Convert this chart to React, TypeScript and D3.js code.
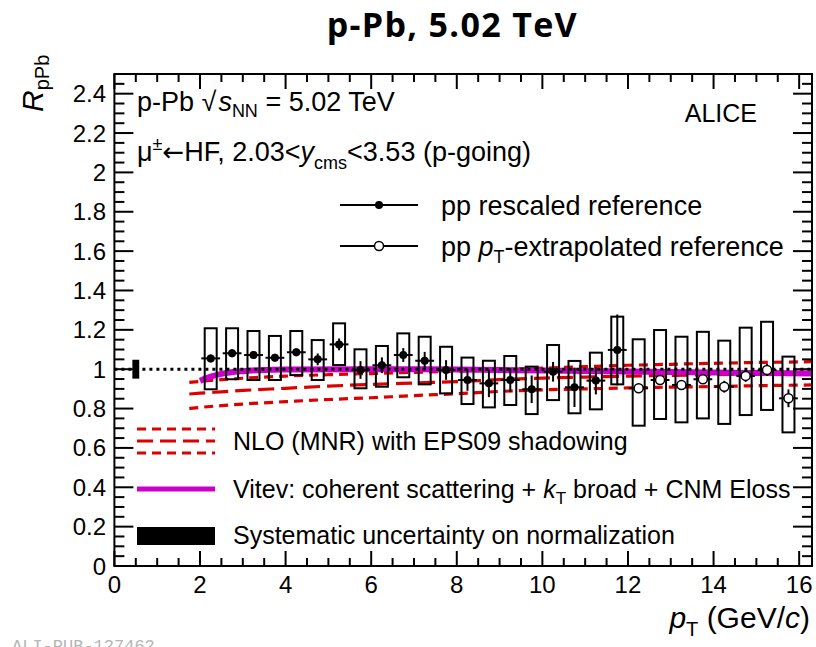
import React from "react";
import * as d3 from "d3";

// ---- data ----
const filledPt = [2.25, 2.75, 3.25, 3.75, 4.25, 4.75, 5.25, 5.75, 6.25, 6.75, 7.25, 7.75, 8.25, 8.75, 9.25, 9.75, 10.25, 10.75, 11.25, 11.75];
const filledR = [1.055, 1.081, 1.072, 1.058, 1.086, 1.05, 1.126, 0.996, 1.02, 1.072, 1.043, 0.996, 0.945, 0.928, 0.945, 0.898, 0.987, 0.908, 0.942, 1.098];
const filledStat = [0.02, 0.02, 0.02, 0.02, 0.02, 0.03, 0.03, 0.045, 0.04, 0.035, 0.045, 0.05, 0.055, 0.07, 0.06, 0.07, 0.05, 0.1, 0.07, 0.18];
const filledSystUp = [0.153, 0.127, 0.122, 0.111, 0.108, 0.098, 0.107, 0.105, 0.098, 0.11, 0.122, 0.118, 0.114, 0.115, 0.122, 0.115, 0.136, 0.134, 0.142, 0.169];
const filledSystDown = [0.157, 0.132, 0.127, 0.113, 0.116, 0.105, 0.105, 0.093, 0.109, 0.113, 0.12, 0.119, 0.122, 0.122, 0.127, 0.126, 0.144, 0.132, 0.146, 0.175];

const openPt = [12.25, 12.75, 13.25, 13.75, 14.25, 14.75, 15.25, 15.75];
const openR = [0.903, 0.945, 0.92, 0.949, 0.911, 0.966, 0.996, 0.852];
const openStat = [0.02, 0.02, 0.02, 0.02, 0.03, 0.03, 0.03, 0.045];
const openSystUp = [0.249, 0.254, 0.245, 0.241, 0.234, 0.245, 0.245, 0.212];
const openSystDown = [0.19, 0.198, 0.19, 0.199, 0.189, 0.199, 0.203, 0.173];

const nloPt = [1.75, 2, 2.5, 3, 4, 5, 6, 7, 8, 9, 10, 11, 12, 13, 14, 15, 16.3];
const nloLow = [0.8, 0.806, 0.815, 0.823, 0.835, 0.846, 0.855, 0.866, 0.875, 0.887, 0.895, 0.9, 0.905, 0.909, 0.912, 0.916, 0.92];
const nloCen = [0.874, 0.878, 0.885, 0.892, 0.903, 0.914, 0.923, 0.93, 0.937, 0.947, 0.955, 0.96, 0.965, 0.969, 0.972, 0.975, 0.978];
const nloHigh = [0.933, 0.938, 0.947, 0.954, 0.965, 0.972, 0.978, 0.984, 0.99, 0.998, 1.005, 1.013, 1.02, 1.025, 1.03, 1.034, 1.038];

const vitPt = [2.0, 2.25, 2.5, 3, 3.5, 4, 6, 8, 10, 12, 14, 16.3];
const vitR = [0.941, 0.962, 0.976, 0.99, 0.996, 0.998, 1.0, 0.998, 0.993, 0.988, 0.983, 0.978];

const normPt = 0.5;
const normUnc = 0.048;

const xMajorTicks = [0, 2, 4, 6, 8, 10, 12, 14, 16];
const yMajorTicks = [0, 0.2, 0.4, 0.6, 0.8, 1, 1.2, 1.4, 1.6, 1.8, 2, 2.2, 2.4];

const FONT = "'Liberation Sans', Arial, Helvetica, sans-serif";
const RED = "#dd0000";
const MAG = "#cc00cc";

export default function App() {
  const x = d3.scaleLinear().domain([0, 16.3]).range([114.4, 812]);
  const y = d3.scaleLinear().domain([0, 2.5]).range([566, 74]);
  const [x0, x1] = x.range();
  const [y0, y1] = y.range();

  const line = d3
    .line<[number, number]>()
    .x((d) => x(d[0]))
    .y((d) => y(d[1]))
    .curve(d3.curveMonotoneX);

  const xMinor = d3.range(0, 16.3001, 0.5);
  const yMinor = d3.range(0, 2.5001, 0.05);
  const isMajorX = (v: number) => Math.abs(v / 2 - Math.round(v / 2)) < 1e-6;
  const isMajorY = (v: number) => Math.abs(v / 0.2 - Math.round(v / 0.2)) < 1e-6;

  const boxHalf = 0.14;
  const errHalf = 0.22;
  const LEG = 25;
  const SUB = 17;
  const TOP = 27;
  const TSUB = 18;

  return (
    <svg
      width={816}
      height={647}
      viewBox="0 0 816 647"
      style={{ position: "absolute", left: 0, top: 0, background: "#fff" }}
      fontFamily={FONT}
    >
      <rect x={0} y={0} width={816} height={647} fill="#fff" />
      {/* Title */}
      <text
        x={451.7}
        y={37}
        textAnchor="middle"
        fontFamily="'Open Sans', 'Noto Sans', sans-serif"
        fontWeight="bold"
        fontSize={34}
        textLength={250}
        fill="#000"
      >
        p-Pb, 5.02 TeV
      </text>

      {/* theory curves */}
      <path d={line(nloPt.map((p, i) => [p, nloHigh[i]]) as any) || ""} fill="none" stroke={RED} strokeWidth={3.2} strokeDasharray="9,6" />
      <path d={line(nloPt.map((p, i) => [p, nloLow[i]]) as any) || ""} fill="none" stroke={RED} strokeWidth={3.2} strokeDasharray="9,6" />
      <path d={line(nloPt.map((p, i) => [p, nloCen[i]]) as any) || ""} fill="none" stroke={RED} strokeWidth={3.2} strokeDasharray="16,7" />
      <path d={line(vitPt.map((p, i) => [p, vitR[i]]) as any) || ""} fill="none" stroke={MAG} strokeWidth={6} />

      {/* dotted unity line */}
      <line x1={x(0)} x2={x1} y1={y(1)} y2={y(1)} stroke="#000" strokeWidth={3} strokeDasharray="3,4" />

      {/* normalization uncertainty */}
      <rect x={x(normPt - 0.08)} y={y(1 + normUnc)} width={x(normPt + 0.08) - x(normPt - 0.08)} height={y(1 - normUnc) - y(1 + normUnc)} fill="#000" />

      {/* filled points */}
      {filledPt.map((p, i) => (
        <g key={"f" + i}>
          <rect
            x={x(p - boxHalf)}
            y={y(filledR[i] + filledSystUp[i])}
            width={x(p + boxHalf) - x(p - boxHalf)}
            height={y(filledR[i] - filledSystDown[i]) - y(filledR[i] + filledSystUp[i])}
            fill="none"
            stroke="#000"
            strokeWidth={2}
          />
          <line x1={x(p)} x2={x(p)} y1={y(filledR[i] + filledStat[i])} y2={y(filledR[i] - filledStat[i])} stroke="#000" strokeWidth={2} />
          <line x1={x(p - errHalf)} x2={x(p + errHalf)} y1={y(filledR[i])} y2={y(filledR[i])} stroke="#000" strokeWidth={2} />
          <circle cx={x(p)} cy={y(filledR[i])} r={4} fill="#000" />
        </g>
      ))}

      {/* open points */}
      {openPt.map((p, i) => (
        <g key={"o" + i}>
          <rect
            x={x(p - boxHalf)}
            y={y(openR[i] + openSystUp[i])}
            width={x(p + boxHalf) - x(p - boxHalf)}
            height={y(openR[i] - openSystDown[i]) - y(openR[i] + openSystUp[i])}
            fill="none"
            stroke="#000"
            strokeWidth={2}
          />
          <line x1={x(p)} x2={x(p)} y1={y(openR[i] + openStat[i])} y2={y(openR[i] - openStat[i])} stroke="#000" strokeWidth={2} />
          <line x1={x(p - errHalf)} x2={x(p + errHalf)} y1={y(openR[i])} y2={y(openR[i])} stroke="#000" strokeWidth={2} />
          <circle cx={x(p)} cy={y(openR[i])} r={4.5} fill="#fff" stroke="#000" strokeWidth={1.5} />
        </g>
      ))}

      {/* frame */}
      <rect x={x0} y={y1} width={x1 - x0} height={y0 - y1} fill="none" stroke="#000" strokeWidth={2} />

      {/* x ticks (bottom & top) */}
      {xMinor.map((v, i) => {
        const L = isMajorX(v) ? 15 : 8;
        return (
          <g key={"xt" + i}>
            <line x1={x(v)} x2={x(v)} y1={y0} y2={y0 - L} stroke="#000" strokeWidth={2} />
            <line x1={x(v)} x2={x(v)} y1={y1} y2={y1 + L} stroke="#000" strokeWidth={2} />
          </g>
        );
      })}
      {/* y ticks (left & right) */}
      {yMinor.map((v, i) => {
        const L = isMajorY(v) ? 19 : 10;
        return (
          <g key={"yt" + i}>
            <line x1={x0} x2={x0 + L} y1={y(v)} y2={y(v)} stroke="#000" strokeWidth={2} />
            <line x1={x1} x2={x1 - L} y1={y(v)} y2={y(v)} stroke="#000" strokeWidth={2} />
          </g>
        );
      })}

      {/* tick labels */}
      {xMajorTicks.map((v) => (
        <text key={"xl" + v} x={x(v)} y={593} textAnchor="middle" fontSize={24} fill="#000">
          {v}
        </text>
      ))}
      {yMajorTicks.map((v) => (
        <text key={"yl" + v} x={106} y={y(v) + 8.5} textAnchor="end" fontSize={24} fill="#000">
          {String(+v.toFixed(1))}
        </text>
      ))}

      {/* axis titles */}
      <text x={810} y={628} textAnchor="end" fontSize={30} fill="#000">
        <tspan fontStyle="italic">p</tspan>
        <tspan fontSize={20} dy={8}>T</tspan>
        <tspan dy={-8}> (GeV/</tspan>
        <tspan fontStyle="italic">c</tspan>
        <tspan>)</tspan>
      </text>
      <text transform="translate(43,112) rotate(-90)" fontSize={30} fill="#000">
        <tspan fontStyle="italic">R</tspan>
        <tspan fontSize={20} dy={6}>pPb</tspan>
      </text>

      {/* annotations */}
      <text x={137} y={111} fontSize={TOP} fill="#000">
        <tspan>p-Pb </tspan>
        <tspan>{"\u221A"}</tspan>
        <tspan fontStyle="italic" dx={2}>s</tspan>
        <tspan fontSize={TSUB} dy={6}>NN</tspan>
        <tspan dy={-6}> = 5.02 TeV</tspan>
      </text>
      <text x={137} y={161} fontSize={TOP} fill="#000">
        <tspan>{"\u03BC"}</tspan>
        <tspan fontSize={TSUB} dy={-11}>{"\u00B1"}</tspan>
        <tspan dy={11} fontFamily="'DejaVu Sans', sans-serif" fontSize={26}>{"\u2190"}</tspan>
        <tspan>{"HF, 2.03<"}</tspan>
        <tspan fontStyle="italic">y</tspan>
        <tspan fontSize={TSUB} dy={8}>cms</tspan>
        <tspan dy={-8}>{"<3.53 (p-going)"}</tspan>
      </text>
      <text x={757} y={122} textAnchor="end" fontSize={25} fill="#000">
        ALICE
      </text>

      {/* top legend */}
      <line x1={340} x2={418} y1={205} y2={205} stroke="#000" strokeWidth={2} />
      <circle cx={379} cy={205} r={4} fill="#000" />
      <text x={441} y={214.5} fontSize={TOP} fill="#000">pp rescaled reference</text>
      <line x1={340} x2={418} y1={246} y2={246} stroke="#000" strokeWidth={2} />
      <circle cx={379} cy={246} r={4.5} fill="#fff" stroke="#000" strokeWidth={1.5} />
      <text x={441} y={255.5} fontSize={TOP} fill="#000">
        <tspan>pp </tspan>
        <tspan fontStyle="italic">p</tspan>
        <tspan fontSize={TSUB} dy={7}>T</tspan>
        <tspan dy={-7}>-extrapolated reference</tspan>
      </text>

      {/* bottom legend */}
      <line x1={137} x2={215} y1={429} y2={429} stroke={RED} strokeWidth={3.2} strokeDasharray="9,6" />
      <line x1={137} x2={215} y1={441} y2={441} stroke={RED} strokeWidth={3.2} strokeDasharray="16,7" />
      <line x1={137} x2={215} y1={453} y2={453} stroke={RED} strokeWidth={3.2} strokeDasharray="9,6" />
      <text x={233} y={450} fontSize={LEG} fill="#000">NLO (MNR) with EPS09 shadowing</text>

      <line x1={137} x2={215} y1={489} y2={489} stroke={MAG} strokeWidth={5} />
      <text x={233} y={498} fontSize={LEG} fill="#000">
        <tspan>Vitev: coherent scattering + </tspan>
        <tspan fontStyle="italic">k</tspan>
        <tspan fontSize={SUB} dy={6}>T</tspan>
        <tspan dy={-6}> broad + CNM Eloss</tspan>
      </text>

      <rect x={137} y={527} width={78} height={18} fill="#000" />
      <text x={233} y={544} fontSize={LEG} fill="#000">Systematic uncertainty on normalization</text>

      {/* watermark */}
      <text x={12} y={651} fontSize={17} fontFamily="'Liberation Mono', 'DejaVu Sans Mono', monospace" fill="#b5b5b5">
        ALI-PUB-127462
      </text>
    </svg>
  );
}
